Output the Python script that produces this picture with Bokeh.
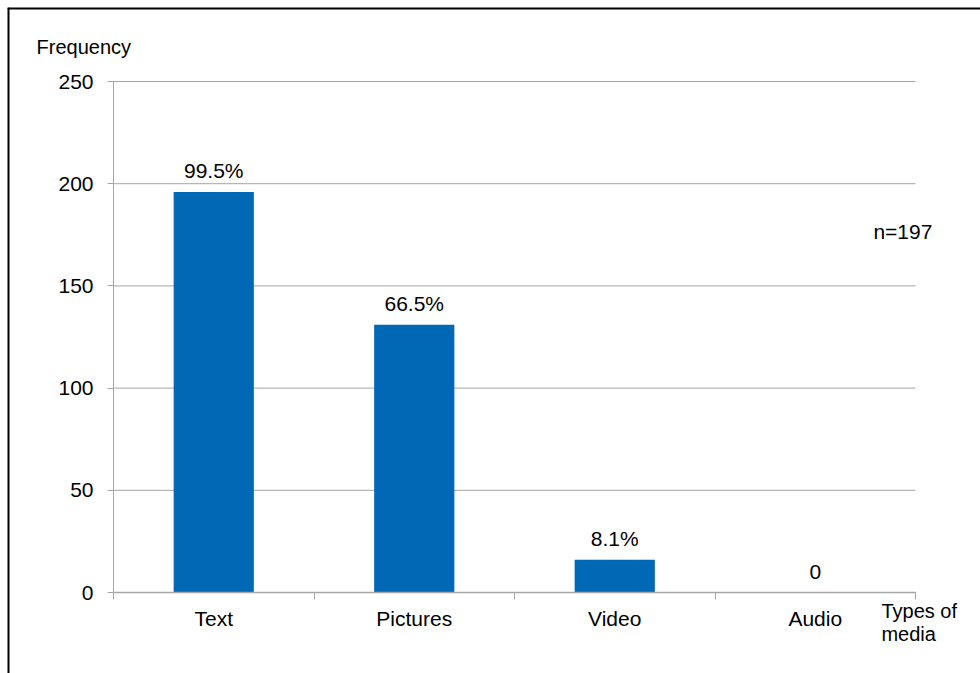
from bokeh.plotting import figure
from bokeh.models import Range1d, FixedTicker, Label, ColumnDataSource, Span
from bokeh.embed import file_html
from bokeh.resources import INLINE
from bokeh.core.properties import value

categories = ["Text", "Pictures", "Video", "Audio"]
frequencies = [196, 131, 16, 0]
pct_labels = ["99.5%", "66.5%", "8.1%", "0"]
y_ticks = [0, 50, 100, 150, 200, 250]
n_note = "n=197"

FONT = "Liberation Sans"
GRAY = "#A6A6A6"
BLUE = "#0068B5"

# layout: canvas W x H, plotting area from px 113..915 (x) and 81..592 (y) on the page
W, H = 973, 666
OX, OY = 7, 7                      # canvas origin on page (margin)
PX0, PX1, PY_TOP, PY_BOT = 113, 915, 81, 592
ncat = len(categories)
ymax = y_ticks[-1]
sx = (PX1 - PX0) / ncat
sy = (PY_BOT - PY_TOP) / ymax
x0 = -(PX0 - OX) / sx
x1 = x0 + W / sx
y1 = ymax + (PY_TOP - OY) / sy
y0 = y1 - H / sy

xc = [i + 0.5 for i in range(ncat)]
src = ColumnDataSource(dict(x=xc, top=frequencies, lab=pct_labels, cat=categories))

p = figure(width=W, height=H, output_backend="svg", toolbar_location=None, title=None,
           x_range=Range1d(x0, x1), y_range=Range1d(y0, y1),
           min_border=0, min_border_left=0, min_border_right=0, min_border_top=0, min_border_bottom=0)
p.styles = {"margin-left": "7px", "margin-top": "7px"}
p.outline_line_color = None
p.border_fill_color = "white"
p.background_fill_color = "white"

# chart border (left and top edges, half of each line falls outside the canvas)
p.add_layout(Span(location=x0, dimension="height", line_color="black", line_width=4))
p.add_layout(Span(location=y1, dimension="width", line_color="black", line_width=4))

# horizontal gridlines limited to the category span
p.segment(x0=[0] * len(y_ticks), x1=[ncat] * len(y_ticks), y0=y_ticks, y1=y_ticks,
          line_color=GRAY, line_width=1)

p.vbar(x="x", top="top", width=0.4, bottom=0, source=src, color=BLUE, line_color=None)
p.text(x="x", y="top", text="lab", source=src, text_align="center", text_baseline="middle",
       y_offset=-21, text_font=value(FONT), text_font_size="21px", text_color="#000000")

# x axis: boundaries as minor ticks, labels at centers
p.xaxis.fixed_location = 0
p.xaxis.bounds = (0, ncat)
p.xaxis.ticker = FixedTicker(ticks=xc, minor_ticks=list(range(ncat + 1)))
p.xaxis.major_label_overrides = {x: c for x, c in zip(xc, categories)}
p.xaxis.major_tick_line_color = None
p.xaxis.major_tick_out = 0
p.xaxis.major_tick_in = 0
p.xaxis.minor_tick_line_color = GRAY
p.xaxis.minor_tick_out = 7
p.xaxis.minor_tick_in = 0
p.xaxis.axis_line_color = GRAY
p.xaxis.axis_line_width = 1.5
p.xaxis.major_label_standoff = 7
p.xaxis.major_label_text_font = FONT
p.xaxis.major_label_text_font_size = "21px"
p.xaxis.major_label_text_color = "#000000"
p.xgrid.grid_line_color = None

p.yaxis.fixed_location = 0
p.yaxis.bounds = (0, ymax)
p.yaxis.ticker = FixedTicker(ticks=y_ticks)
p.yaxis.axis_line_color = GRAY
p.yaxis.major_tick_line_color = GRAY
p.yaxis.major_tick_out = 6
p.yaxis.major_tick_in = 0
p.yaxis.minor_tick_line_color = None
p.yaxis.major_label_standoff = 14
p.yaxis.major_label_text_font = FONT
p.yaxis.major_label_text_font_size = "21px"
p.yaxis.major_label_text_color = "#000000"
p.ygrid.grid_line_color = None

def lab(text, x, y, size="20px"):
    p.add_layout(Label(x=x, y=y, text=text, text_font=FONT, text_font_size=size,
                       text_align="left", text_baseline="middle", text_color="#000000"))

lab("Frequency", -0.384, 267.1)
lab(n_note, 3.79, 176.5, size="21px")
lab("Types of", 3.83, -9.05)
lab("media", 3.83, -20.3)

open("out.html", "w").write(file_html(p, INLINE))
